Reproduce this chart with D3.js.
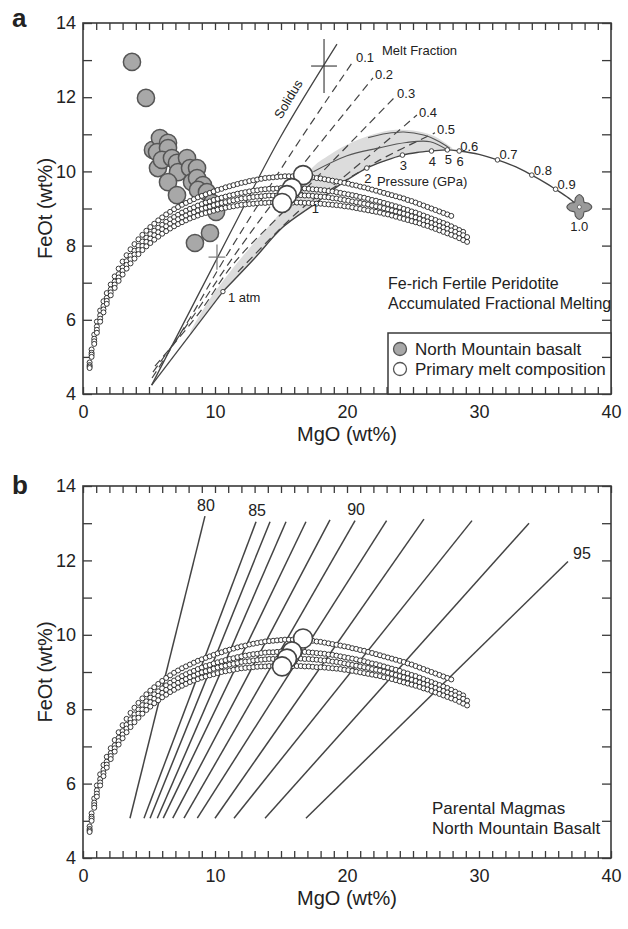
<!DOCTYPE html>
<html><head><meta charset="utf-8">
<script src="https://cdn.jsdelivr.net/npm/d3@7"></script>
<style>
body{margin:0;background:#fff}
svg{display:block}
text{font-family:"Liberation Sans",Arial,Helvetica,sans-serif;fill:#222}
</style></head>
<body><div id="chart"></div>
<script>
// ---------------- DATA ----------------
const xTickLabels = [0, 10, 20, 30, 40];
const yTickLabels = [4, 6, 8, 10, 12, 14];

// Accumulated-fractional-melting model curves (4 primary magmas), shared MgO grid
const curveMgO = [0.5,0.65,0.85,1.05,1.3,1.55,1.8,2.1,2.4,2.7,3.0,3.3,3.6,3.9,4.2,4.5,4.8,5.1,5.4,5.7,6.0,6.3,6.6,6.9,7.2,7.5,7.8,8.1,8.4,8.7,9.0,9.3,9.6,9.9,10.2,10.5,10.8,11.1,11.4,11.7,12.0,12.3,12.6,12.9,13.2,13.5,13.8,14.1,14.4,14.7,15.0,15.3,15.6,15.9,16.2,16.5,16.8,17.1,17.4,17.7,18.0,18.3,18.6,18.9,19.2,19.5,19.8,20.1,20.4,20.7,21.0,21.3,21.6,21.9,22.2,22.5,22.8,23.1,23.4,23.7,24.0,24.3,24.6,24.9,25.2,25.5,25.8,26.1,26.4,26.7,27.0,27.3,27.6,27.9,28.2,28.5,28.8,29.1];
const curveFeO1 = [4.85,5.2,5.6,5.95,6.25,6.5,6.72,6.95,7.17,7.38,7.57,7.74,7.9,8.04,8.17,8.29,8.4,8.5,8.59,8.68,8.76,8.84,8.91,8.98,9.04,9.1,9.15,9.2,9.25,9.3,9.34,9.38,9.42,9.46,9.5,9.53,9.57,9.6,9.63,9.66,9.69,9.71,9.74,9.76,9.78,9.8,9.82,9.83,9.84,9.85,9.86,9.87,9.87,9.87,9.87,9.87,9.86,9.85,9.84,9.82,9.81,9.79,9.77,9.75,9.73,9.71,9.69,9.67,9.64,9.62,9.59,9.57,9.54,9.51,9.48,9.45,9.42,9.39,9.36,9.33,9.3,9.27,9.23,9.2,9.16,9.12,9.08,9.04,9.0,8.96,8.92,8.88,8.84,8.8];
const curveFeO2 = [4.78,5.11,5.49,5.82,6.12,6.37,6.59,6.82,7.03,7.23,7.41,7.58,7.73,7.86,7.99,8.11,8.21,8.31,8.4,8.48,8.56,8.64,8.71,8.77,8.83,8.89,8.94,8.99,9.03,9.08,9.12,9.16,9.19,9.23,9.26,9.29,9.32,9.35,9.37,9.4,9.42,9.44,9.46,9.48,9.49,9.51,9.52,9.53,9.53,9.54,9.55,9.55,9.55,9.55,9.55,9.55,9.54,9.53,9.52,9.51,9.5,9.49,9.47,9.46,9.44,9.42,9.4,9.38,9.36,9.34,9.31,9.29,9.26,9.23,9.21,9.18,9.15,9.12,9.09,9.06,9.03,8.99,8.96,8.92,8.89,8.85,8.81,8.77,8.73,8.69,8.65,8.61,8.57,8.52,8.47,8.42,8.37];
const curveFeO3 = [4.74,5.06,5.42,5.73,6.03,6.28,6.51,6.74,6.95,7.14,7.32,7.48,7.63,7.76,7.88,7.99,8.1,8.19,8.28,8.36,8.44,8.52,8.59,8.65,8.71,8.76,8.81,8.86,8.9,8.95,8.99,9.02,9.05,9.09,9.12,9.15,9.17,9.2,9.22,9.24,9.27,9.28,9.29,9.31,9.32,9.33,9.34,9.35,9.35,9.35,9.36,9.36,9.36,9.36,9.36,9.36,9.35,9.35,9.34,9.33,9.32,9.31,9.3,9.28,9.27,9.25,9.23,9.21,9.19,9.17,9.15,9.13,9.11,9.08,9.06,9.04,9.01,8.98,8.95,8.92,8.89,8.86,8.83,8.79,8.76,8.72,8.68,8.65,8.61,8.57,8.53,8.49,8.45,8.41,8.37,8.32,8.28,8.23];
const curveFeO4 = [4.7,5.0,5.35,5.65,5.95,6.2,6.43,6.66,6.86,7.05,7.22,7.38,7.52,7.65,7.77,7.88,7.98,8.07,8.16,8.24,8.32,8.39,8.46,8.52,8.58,8.63,8.68,8.73,8.77,8.81,8.85,8.88,8.91,8.94,8.97,9.0,9.02,9.04,9.06,9.08,9.1,9.11,9.12,9.13,9.14,9.15,9.15,9.16,9.16,9.16,9.16,9.16,9.16,9.16,9.16,9.16,9.15,9.15,9.14,9.13,9.13,9.12,9.11,9.1,9.09,9.08,9.06,9.05,9.03,9.01,8.99,8.97,8.95,8.93,8.91,8.89,8.86,8.84,8.81,8.78,8.75,8.72,8.69,8.66,8.63,8.6,8.56,8.53,8.49,8.45,8.41,8.37,8.33,8.29,8.25,8.2,8.15,8.1];

// Primary melt compositions
const primaryMgO = [16.67, 15.83, 15.45, 15.08];
const primaryFeO = [9.9, 9.55, 9.36, 9.15];

// North Mountain basalt
const basaltMgO = [3.71,4.77,5.3,5.83,6.44,5.61,6.44,5.68,5.98,6.74,7.12,7.2,7.88,8.11,8.64,6.44,8.26,8.64,9.09,7.12,8.71,9.39,9.77,10.08,9.62,8.48];
const basaltFeO = [12.95,11.98,10.58,10.90,10.77,10.52,10.63,10.09,10.31,10.36,10.23,9.98,10.36,10.09,10.09,9.71,9.71,9.82,9.63,9.36,9.50,9.44,9.15,8.91,8.34,8.07];

// Solidus, lower boundary line
const solidusMgO = [5.2, 11.27, 14.92, 19.24];
const solidusFeO = [4.24, 8.42, 10.9, 13.43];
const lowerLineMgO = [5.2, 10.6];
const lowerLineFeO = [4.24, 6.76];

// Pressure / melt-fraction arc
const arcMgO = [10.6,12.88,15.15,17.42,19.5,21.5,22.9,24.2,25.3,26.4,27.6,28.5,30.0,31.4,32.8,34.0,35.0,35.8,36.8,37.6];
const arcFeO = [6.76,7.61,8.5,9.09,9.65,10.09,10.29,10.44,10.51,10.55,10.58,10.55,10.46,10.31,10.12,9.9,9.7,9.52,9.28,9.04];
const pressureLabels = ["2","3","4","5","6"];
const pressureMgO = [21.5, 24.2, 26.4, 27.6, 28.5];
const pressureFeO = [10.09, 10.44, 10.55, 10.58, 10.55];
const fractionLabels = ["0.7","0.8","0.9"];
const fractionMgO = [31.4, 34.0, 35.8];
const fractionFeO = [10.31, 9.9, 9.52];
const sourceMgO = 37.6, sourceFeO = 9.04;

// Grey field
const bandMgO = [8.11,10.6,12.88,15.15,17.42,19.5,21.5,22.9,24.2,25.3,26.4,27.6,28.0,27.4,26.4,25.0,23.7,22.0,20.0,18.7,17.42,14.92,13.26,11.67,9.5];
const bandFeO = [5.64,6.76,7.61,8.5,9.09,9.65,10.09,10.29,10.44,10.51,10.55,10.58,10.6,10.78,10.98,11.1,11.12,11.0,10.72,10.45,10.12,8.88,8.2,7.53,6.5];
const innerAMgO = [21.6, 23.0, 24.3, 25.8, 27.0, 27.8];
const innerAFeO = [10.91, 11.02, 11.06, 10.98, 10.8, 10.62];
const innerBMgO = [17.45, 20.0, 22.25, 24.5, 26.3, 27.6];
const innerBFeO = [9.99, 10.42, 10.62, 10.78, 10.8, 10.58];

// Melt fraction dashed lines
const meltFractions = ["0.1","0.2","0.3","0.4","0.5"];
const meltLineMgO = [
  [5.23, 8.11, 10.53, 15.68, 20.53],
  [5.3, 8.41, 11.06, 14.55, 21.97],
  [5.45, 8.79, 11.44, 15.68, 23.64],
  [11.74, 16.44, 19.47, 25.3],
  [18.71, 22.5, 26.67]
];
const meltLineFeO = [
  [4.43, 6.05, 7.53, 10.44, 13.0],
  [4.59, 6.13, 7.53, 9.23, 12.52],
  [4.75, 6.18, 7.53, 9.09, 12.01],
  [7.29, 8.96, 9.77, 11.52],
  [9.5, 10.31, 11.04]
];

// Crosses (uncertainty)
const crossMgO = [18.26, 10.15];
const crossFeO = [12.84, 7.69];
const crossMgOErr = [0.98, 0.64];
const crossFeOErr = [0.73, 0.34];

// Olivine Fo isopleths (panel b)
const olFo = [80,85,86,87,88,89,90,91,92,93,94,95];
const olBottomMgO = [3.56,4.62,5.08,5.63,6.08,6.80,7.65,8.66,10.0,11.44,13.79,16.89];
const olBottomFeO = [5.07,5.07,5.07,5.07,5.07,5.07,5.07,5.07,5.07,5.07,5.07,5.07];
const olTopMgO = [9.24,13.11,14.17,15.38,16.89,18.71,20.61,23.0,25.83,29.47,33.79,36.74];
const olTopFeO = [13.19,13.04,13.04,13.04,13.04,13.09,13.07,13.07,13.11,13.07,13.0,11.97];
const olLabelled = [80, 85, 90, 95];

// ---------------- CHART ----------------
const svg = d3.select("#chart").append("svg").attr("width", 628).attr("height", 929);
const x = d3.scaleLinear().domain([0, 40]).range([83, 611]);
const ya = d3.scaleLinear().domain([4, 14]).range([394, 23]);
const yb = d3.scaleLinear().domain([4, 14]).range([858, 486]);
const INK = "#3a3a3a";

function axes(y) {
  const g = svg.append("g");
  const [yBot, yTop] = y.range();
  const xMinor = d3.range(0, 41, 1);
  const yMinor = d3.range(4, 15, 1);
  g.append("g").attr("transform", `translate(0,${yBot})`)
    .call(d3.axisBottom(x).tickValues(xMinor).tickSizeInner(-7).tickSizeOuter(0).tickPadding(11)
      .tickFormat(d => xTickLabels.includes(d) ? String(d) : ""));
  g.append("g").attr("transform", `translate(0,${yTop})`)
    .call(d3.axisTop(x).tickValues(xMinor).tickSizeInner(-7).tickSizeOuter(0).tickFormat(""));
  g.append("g").attr("transform", `translate(${x(0)},0)`)
    .call(d3.axisLeft(y).tickValues(yMinor).tickSizeInner(-9).tickSizeOuter(0).tickPadding(7)
      .tickFormat(d => yTickLabels.includes(d) ? String(d) : ""));
  g.append("g").attr("transform", `translate(${x(40)},0)`)
    .call(d3.axisRight(y).tickValues(yMinor).tickSizeInner(-9).tickSizeOuter(0).tickFormat(""));
  g.selectAll(".domain").remove();
  g.selectAll(".tick line").attr("stroke", INK).attr("stroke-width", 1.3);
  g.selectAll(".tick text").attr("font-size", 18).attr("fill", "#222")
    .attr("font-family", '"Liberation Sans",Arial,sans-serif');
  g.append("rect").attr("x", x(0)).attr("y", yTop).attr("width", x(40) - x(0)).attr("height", yBot - yTop)
    .attr("fill", "none").attr("stroke", INK).attr("stroke-width", 1.6);
  svg.append("text").attr("x", (x(0) + x(40)) / 2).attr("y", yBot + 47).attr("text-anchor", "middle")
    .attr("font-size", 20).text("MgO (wt%)");
  svg.append("text").attr("transform", `translate(${52},${(yTop + yBot) / 2}) rotate(-90)`)
    .attr("text-anchor", "middle").attr("font-size", 20).text("FeOt (wt%)");
}

function zip(xs, ys) { return xs.map((v, i) => [v, ys[i]]); }

function drawCurves(g, y) {
  const curves = [curveFeO1, curveFeO2, curveFeO3, curveFeO4];
  curves.forEach(fe => {
    g.append("g").selectAll("circle").data(fe.map((v, i) => [curveMgO[i], v])).join("circle")
      .attr("cx", d => x(d[0])).attr("cy", d => y(d[1])).attr("r", 2.5)
      .attr("fill", "#fff").attr("stroke", "#222").attr("stroke-width", 0.9);
  });
}
function drawPrimary(g, y) {
  g.append("g").selectAll("circle").data(zip(primaryMgO, primaryFeO)).join("circle")
    .attr("cx", d => x(d[0])).attr("cy", d => y(d[1])).attr("r", 9.5)
    .attr("fill", "#fff").attr("stroke", "#444").attr("stroke-width", 1.6);
}

// ========== Panel a ==========
axes(ya);
const ga = svg.append("g");
const lineA = d3.line().x(d => x(d[0])).y(d => ya(d[1]));
const smoothA = d3.line().x(d => x(d[0])).y(d => ya(d[1])).curve(d3.curveCatmullRom.alpha(0.5));

ga.append("path").attr("d", d3.line().x(d => x(d[0])).y(d => ya(d[1])).curve(d3.curveCatmullRomClosed.alpha(0.5))(zip(bandMgO, bandFeO)))
  .attr("fill", "#dcdcdc").attr("stroke", "none");

meltLineMgO.forEach((xs, i) => {
  ga.append("path").attr("d", smoothA(zip(xs, meltLineFeO[i])))
    .attr("fill", "none").attr("stroke", "#444").attr("stroke-width", 1.2).attr("stroke-dasharray", "8,5");
  const n = xs.length - 1;
  ga.append("text").attr("x", x(xs[n]) + 2).attr("y", ya(meltLineFeO[i][n]) - 3).attr("dy", "0.35em")
    .attr("font-size", 13).text(meltFractions[i]);
});
ga.append("text").attr("x", x(22.65)).attr("y", ya(13.27)).attr("dy", "0.35em").attr("font-size", 13).text("Melt Fraction");

ga.append("path").attr("d", smoothA(zip(solidusMgO, solidusFeO))).attr("fill", "none").attr("stroke", "#444").attr("stroke-width", 1.3);
ga.append("path").attr("d", lineA(zip(lowerLineMgO, lowerLineFeO))).attr("fill", "none").attr("stroke", "#444").attr("stroke-width", 1.3);
ga.append("text").attr("transform", `translate(${x(15.55)},${ya(11.95)}) rotate(-59)`).attr("text-anchor", "middle")
  .attr("dy", "0.35em").attr("font-size", 13).text("Solidus");

ga.append("path").attr("d", smoothA(zip(innerAMgO, innerAFeO))).attr("fill", "none").attr("stroke", "#555").attr("stroke-width", 1.1);
ga.append("path").attr("d", smoothA(zip(innerBMgO, innerBFeO))).attr("fill", "none").attr("stroke", "#555").attr("stroke-width", 1.1);

ga.append("path").attr("d", smoothA(zip(arcMgO, arcFeO))).attr("fill", "none").attr("stroke", "#444").attr("stroke-width", 1.4);

crossMgO.forEach((m, i) => {
  ga.append("line").attr("x1", x(m - crossMgOErr[i])).attr("x2", x(m + crossMgOErr[i])).attr("y1", ya(crossFeO[i])).attr("y2", ya(crossFeO[i]))
    .attr("stroke", i === 0 ? "#444" : "#777").attr("stroke-width", 1.2);
  ga.append("line").attr("x1", x(m)).attr("x2", x(m)).attr("y1", ya(crossFeO[i] - crossFeOErr[i])).attr("y2", ya(crossFeO[i] + crossFeOErr[i]))
    .attr("stroke", i === 0 ? "#444" : "#777").attr("stroke-width", 1.2);
});

ga.append("g").selectAll("circle").data(zip(basaltMgO, basaltFeO)).join("circle")
  .attr("cx", d => x(d[0])).attr("cy", d => ya(d[1])).attr("r", 8.6)
  .attr("fill", "#a8a8a8").attr("stroke", "#555").attr("stroke-width", 1.5);

drawCurves(ga, ya);
drawPrimary(ga, ya);

ga.append("circle").attr("cx", x(arcMgO[0])).attr("cy", ya(arcFeO[0])).attr("r", 2.2).attr("fill", "#fff").attr("stroke", "#444");
ga.append("text").attr("x", x(arcMgO[0]) + 5).attr("y", ya(arcFeO[0]) + 6).attr("dy", "0.35em").attr("font-size", 13).text("1 atm");
ga.append("text").attr("x", x(17.6)).attr("y", ya(9.0)).attr("dy", "0.35em").attr("text-anchor", "middle").attr("font-size", 13).text("1");
pressureMgO.forEach((m, i) => {
  ga.append("circle").attr("cx", x(m)).attr("cy", ya(pressureFeO[i])).attr("r", 2.3).attr("fill", "#fff").attr("stroke", "#444");
  ga.append("text").attr("x", x(m) + 1).attr("y", ya(pressureFeO[i]) + 10).attr("dy", "0.35em").attr("text-anchor", "middle")
    .attr("font-size", 13).text(pressureLabels[i]);
});
ga.append("text").attr("x", x(pressureMgO[4]) + 1).attr("y", ya(pressureFeO[4]) - 5).attr("dy", "0.35em").attr("font-size", 13).text("0.6");
ga.append("text").attr("x", x(22.27)).attr("y", ya(9.74)).attr("dy", "0.35em").attr("font-size", 13).text("Pressure (GPa)");
fractionMgO.forEach((m, i) => {
  ga.append("circle").attr("cx", x(m)).attr("cy", ya(fractionFeO[i])).attr("r", 2.3).attr("fill", "#fff").attr("stroke", "#444");
  ga.append("text").attr("x", x(m) + 2).attr("y", ya(fractionFeO[i]) - 5).attr("dy", "0.35em").attr("font-size", 13).text(fractionLabels[i]);
});
// source marker (4-lobed)
const starR = [12.5, 10, 6.8, 10];
const starPts = d3.range(16).map(k => [k * Math.PI / 8, starR[k % 4]]);
const star = d3.lineRadial().curve(d3.curveCardinalClosed.tension(0.2))(starPts);
ga.append("path").attr("d", star).attr("transform", `translate(${x(sourceMgO)},${ya(sourceFeO)})`)
  .attr("fill", "#9a9a9a").attr("stroke", "#555").attr("stroke-width", 1.2);
ga.append("circle").attr("cx", x(sourceMgO)).attr("cy", ya(sourceFeO)).attr("r", 2).attr("fill", "#fff").attr("stroke", "#555").attr("stroke-width", 0.8);
ga.append("text").attr("x", x(sourceMgO)).attr("y", ya(sourceFeO) + 19).attr("dy", "0.35em").attr("text-anchor", "middle").attr("font-size", 13).text("1.0");

ga.append("text").attr("x", 388).attr("y", 283).attr("dy", "0.35em").attr("font-size", 16).text("Fe-rich Fertile Peridotite");
ga.append("text").attr("x", 388).attr("y", 303).attr("dy", "0.35em").attr("font-size", 16).text("Accumulated Fractional Melting");

const lg = svg.append("g");
lg.append("rect").attr("x", 388).attr("y", 333).attr("width", 611 - 388).attr("height", 394 - 333)
  .attr("fill", "#fff").attr("stroke", INK).attr("stroke-width", 1.5);
lg.append("circle").attr("cx", 400).attr("cy", 349).attr("r", 6.5).attr("fill", "#a8a8a8").attr("stroke", "#555").attr("stroke-width", 1.3);
lg.append("text").attr("x", 415).attr("y", 349).attr("dy", "0.35em").attr("font-size", 17).text("North Mountain basalt");
lg.append("circle").attr("cx", 400).attr("cy", 369).attr("r", 6.5).attr("fill", "#fff").attr("stroke", "#555").attr("stroke-width", 1.3);
lg.append("text").attr("x", 415).attr("y", 369).attr("dy", "0.35em").attr("font-size", 17).text("Primary melt composition");
{
  const gt = svg.append("g").attr("transform", `translate(0,394)`)
    .call(d3.axisBottom(x).tickValues(d3.range(24, 40, 1)).tickSizeInner(-7).tickSizeOuter(0).tickFormat(""));
  gt.select(".domain").remove();
  gt.selectAll(".tick line").attr("stroke", INK).attr("stroke-width", 1.3);
  const gr = svg.append("g").attr("transform", `translate(611,0)`)
    .call(d3.axisRight(ya).tickValues([5]).tickSizeInner(-9).tickSizeOuter(0).tickFormat(""));
  gr.select(".domain").remove();
  gr.selectAll(".tick line").attr("stroke", INK).attr("stroke-width", 1.3);
}

svg.append("text").attr("x", 12).attr("y", 27).attr("font-size", 26).attr("font-weight", "bold").text("a");

// ========== Panel b ==========
axes(yb);
const gb = svg.append("g");
olFo.forEach((fo, i) => {
  gb.append("line").attr("x1", x(olBottomMgO[i])).attr("y1", yb(olBottomFeO[i]))
    .attr("x2", x(olTopMgO[i])).attr("y2", yb(olTopFeO[i]))
    .attr("stroke", "#444").attr("stroke-width", 1.5);
  if (olLabelled.includes(fo)) {
    const right = fo === 95;
    gb.append("text").attr("x", x(olTopMgO[i]) + (right ? 14 : 1)).attr("y", yb(olTopFeO[i]) + (right ? -8 : -11))
      .attr("dy", "0.35em").attr("text-anchor", "middle").attr("font-size", 16).text(fo);
  }
});
drawCurves(gb, yb);
drawPrimary(gb, yb);
gb.append("text").attr("x", 432).attr("y", 808).attr("dy", "0.35em").attr("font-size", 17).text("Parental Magmas");
gb.append("text").attr("x", 432).attr("y", 828).attr("dy", "0.35em").attr("font-size", 17).text("North Mountain Basalt");
svg.append("text").attr("x", 12).attr("y", 494).attr("font-size", 26).attr("font-weight", "bold").text("b");
</script>
</body></html>
